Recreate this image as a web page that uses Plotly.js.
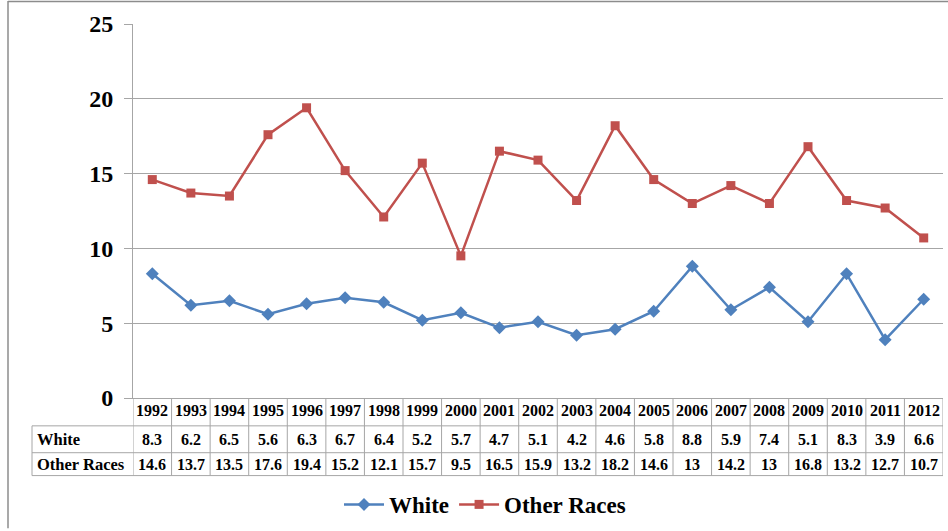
<!DOCTYPE html>
<html>
<head>
<meta charset="utf-8">
<script src="https://cdn.plot.ly/plotly-3.0.1.min.js"></script>
<style>html,body{margin:0;padding:0;background:#fff;}#chart{width:948px;height:531px;}</style>
</head>
<body>
<div id="chart"></div>
<script>
const years = [1992,1993,1994,1995,1996,1997,1998,1999,2000,2001,2002,2003,2004,2005,2006,2007,2008,2009,2010,2011,2012];
const white = [8.3,6.2,6.5,5.6,6.3,6.7,6.4,5.2,5.7,4.7,5.1,4.2,4.6,5.8,8.8,5.9,7.4,5.1,8.3,3.9,6.6];
const otherRaces = [14.6,13.7,13.5,17.6,19.4,15.2,12.1,15.7,9.5,16.5,15.9,13.2,18.2,14.6,13,14.2,13,16.8,13.2,12.7,10.7];
const seriesNames = ['White','Other Races'];
const yTicks = [0,5,10,15,20,25];

const W = 948, H = 531;
const L = 133, R = 5, T = 24, B = 131;
const pw = W - L - R, ph = H - T - B;
const px = x => (x - L) / pw;          // pixel -> paper x
const py = y => (H - B - y) / ph;       // pixel -> paper y

const FONT = 'Liberation Serif';
const GRID = '#a6a6a6';

const traces = [
  {x: years, y: white, name: seriesNames[0], type: 'scatter', mode: 'lines+markers',
   line: {color: '#4F81BD', width: 2.5}, marker: {symbol: 'diamond', size: 10, color: '#4F81BD'}},
  {x: years, y: otherRaces, name: seriesNames[1], type: 'scatter', mode: 'lines+markers',
   line: {color: '#C0504D', width: 2.5}, marker: {symbol: 'square', size: 9, color: '#C0504D'}}
];

const tf = {family: FONT, size: 16, color: '#000', weight: 'bold'};
const lf = {family: FONT, size: 16.5, color: '#000', weight: 'bold'};
const rowYear = py(413), rowWhite = py(441.5), rowOther = py(466.5);
const annotations = [];
const ann = (x, y, xref, text, font, xanchor) => annotations.push({x: x, y: y, xref: xref, yref: 'paper',
  xanchor: xanchor || 'center', yanchor: 'middle', text: text, showarrow: false, font: font});
years.forEach((yr, i) => {
  ann(yr, rowYear, 'x', String(yr), tf);
  ann(yr, rowWhite, 'x', String(white[i]), tf);
  ann(yr, rowOther, 'x', String(otherRaces[i]), tf);
});
ann(px(35), rowWhite, 'paper', seriesNames[0], lf, 'left');
ann(px(35), rowOther, 'paper', seriesNames[1], lf, 'left');

const shapes = [];
const tb = py(478), tr1 = py(428), tr2 = py(455);
const ln = {color: GRID, width: 1};
for (let i = 0; i <= years.length; i++) {
  const xv = years[0] - 0.5 + i;
  shapes.push({type: 'line', xref: 'x', yref: 'paper', x0: xv, x1: xv, y0: 0, y1: tb, line: ln, layer: 'above'});
}
[tr1, tr2, tb].forEach(yv => shapes.push({type: 'line', xref: 'paper', yref: 'paper', x0: px(32), x1: px(943), y0: yv, y1: yv, line: ln}));
shapes.push({type: 'line', xref: 'paper', yref: 'paper', x0: px(32), x1: px(32), y0: tr1, y1: tb, line: ln});
// outer frame (cropped)
shapes.push({type: 'line', xref: 'paper', yref: 'paper', x0: px(8), x1: px(8), y0: py(1), y1: py(531), line: {color: '#8c8c8c', width: 1.5}});
shapes.push({type: 'line', xref: 'paper', yref: 'paper', x0: px(8), x1: px(948), y0: py(1.5), y1: py(1.5), line: {color: '#8c8c8c', width: 1.5}});

const layout = {
  width: W, height: H,
  margin: {l: L, r: R, t: T, b: B},
  paper_bgcolor: '#fff', plot_bgcolor: '#fff',
  showlegend: true,
  legend: {orientation: 'h', x: px(485), xanchor: 'center', y: py(507), yanchor: 'middle',
    font: {family: FONT, size: 23, color: '#000', weight: 'bold'}, itemwidth: 40, tracegroupgap: 0},
  xaxis: {range: [years[0] - 0.5, years[years.length - 1] + 0.5], showgrid: false, zeroline: false,
    showticklabels: false, ticks: '', showline: true, linecolor: GRID, linewidth: 1, fixedrange: true},
  yaxis: {range: [0, 25], tickvals: yTicks, ticktext: yTicks.map(String),
    showgrid: true, gridcolor: GRID, gridwidth: 1, zeroline: false,
    showline: true, linecolor: GRID, linewidth: 1, ticks: 'outside', ticklen: 8, tickcolor: GRID,
    ticklabelstandoff: 6,
    tickfont: {family: FONT, size: 24, color: '#000', weight: 'bold'}, fixedrange: true},
  annotations: annotations,
  shapes: shapes
};

Plotly.newPlot('chart', traces, layout, {displayModeBar: false, staticPlot: true});
</script>
</body>
</html>
